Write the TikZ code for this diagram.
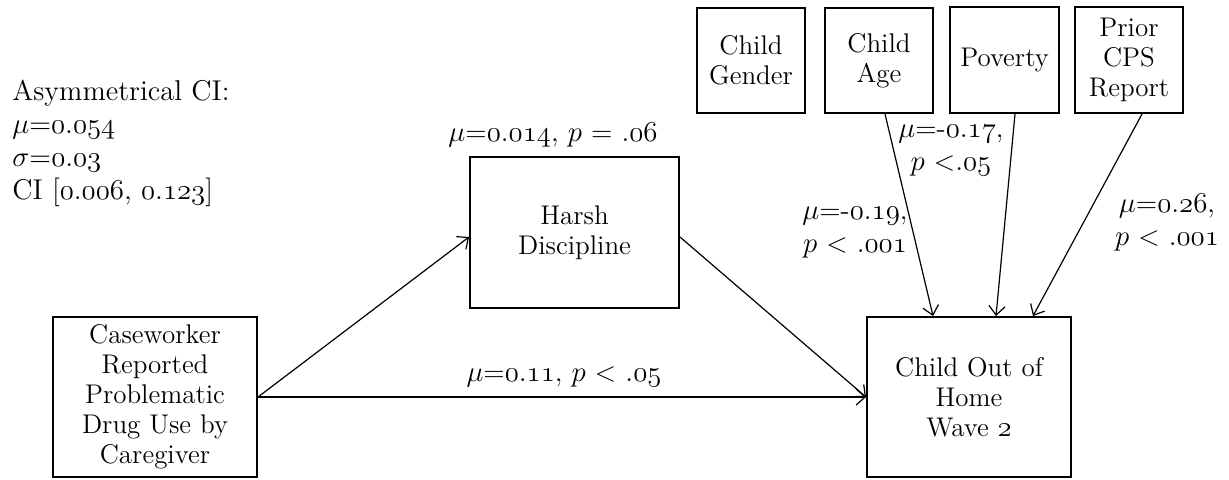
\documentclass[tikz,border=0pt]{standalone}
\usetikzlibrary{arrows.meta}
% old-style figures taken from the math italic font
\newcommand{\osn}[1]{\ensuremath{\mathnormal{#1}}}
\tikzset{
  varbox/.style={draw, line width=1pt, align=center, inner sep=1pt,
                 font=\fontsize{13.5}{15}\selectfont},
  stat/.style={align=center, inner sep=0pt, font=\fontsize{14}{16.5}\selectfont},
  path/.style={line width=0.6pt, -{Straight Barb[length=4.5pt,width=8pt,line width=0.6pt]}},
}
\begin{document}
\begin{tikzpicture}[x=0.5pt, y=-0.5pt]
\useasboundingbox (0,0) rectangle (1229,479);

% summary of the indirect effect
\node[anchor=north west, align=left, inner sep=0pt,
      font=\fontsize{14.3}{16.5}\selectfont] (ci) at (12,80)
  {Asymmetrical CI:\\
   $\mu$=\osn{0.054}\\
   $\sigma$=\osn{0.03}\\
   CI [\osn{0.006}, \osn{0.123}]};

% main variables
\node[varbox, minimum width=102pt, minimum height=80pt] (case) at (155,397)
  {Caseworker\\Reported\\Problematic\\Drug Use by\\Caregiver};
\node[varbox, minimum width=104.5pt, minimum height=75.5pt] (harsh) at (574.5,232.5)
  {Harsh\\Discipline};
\node[varbox, minimum width=102pt, minimum height=80pt] (out) at (969,397)
  {Child Out of\\Home\\Wave \osn{2}};

% covariates
\node[varbox, minimum width=54pt, minimum height=52.5pt] (gender) at (751,60.5)
  {Child\\Gender};
\node[varbox, minimum width=54pt, minimum height=52.5pt] (age) at (879,60.5)
  {Child\\Age};
\node[varbox, minimum width=54.5pt, minimum height=53pt] (poverty) at (1004.5,60)
  {Poverty};
\node[varbox, minimum width=54pt, minimum height=53pt] (prior) at (1129,60)
  {Prior\\CPS\\Report};

% paths
\draw[path] (case.east) -- ([yshift=-2.25pt]harsh.west);
\draw[path] ([yshift=-2.25pt]harsh.east) -- (out.west);
\draw[path] (case.east) -- (out.west);
\draw[path] ([xshift=3pt]age.south) -- ([xshift=-18pt]out.north);
\draw[path] ([xshift=5.25pt]poverty.south) -- ([xshift=13.5pt]out.north);
\draw[path] ([xshift=6.5pt]prior.south) -- ([xshift=32pt]out.north);

% path estimates
\node[stat] (lharsh) at (553,135) {$\mu$=\osn{0.014}, $p$ = \osn{.06}};
\node[stat] (ldirect) at (564,377) {$\mu$=\osn{0.11}, $p$ < \osn{.05}};
\node[stat] (lpov) at (951,151) {$\mu$=-\osn{0.17},\\$p$ <\osn{.05}};
\node[stat] (lage) at (855,233) {$\mu$=-\osn{0.19},\\$p$ < \osn{.001}};
\node[stat] (lprior) at (1167,223) {$\mu$=\osn{0.26},\\$p$ < \osn{.001}};
\end{tikzpicture}
\end{document}
